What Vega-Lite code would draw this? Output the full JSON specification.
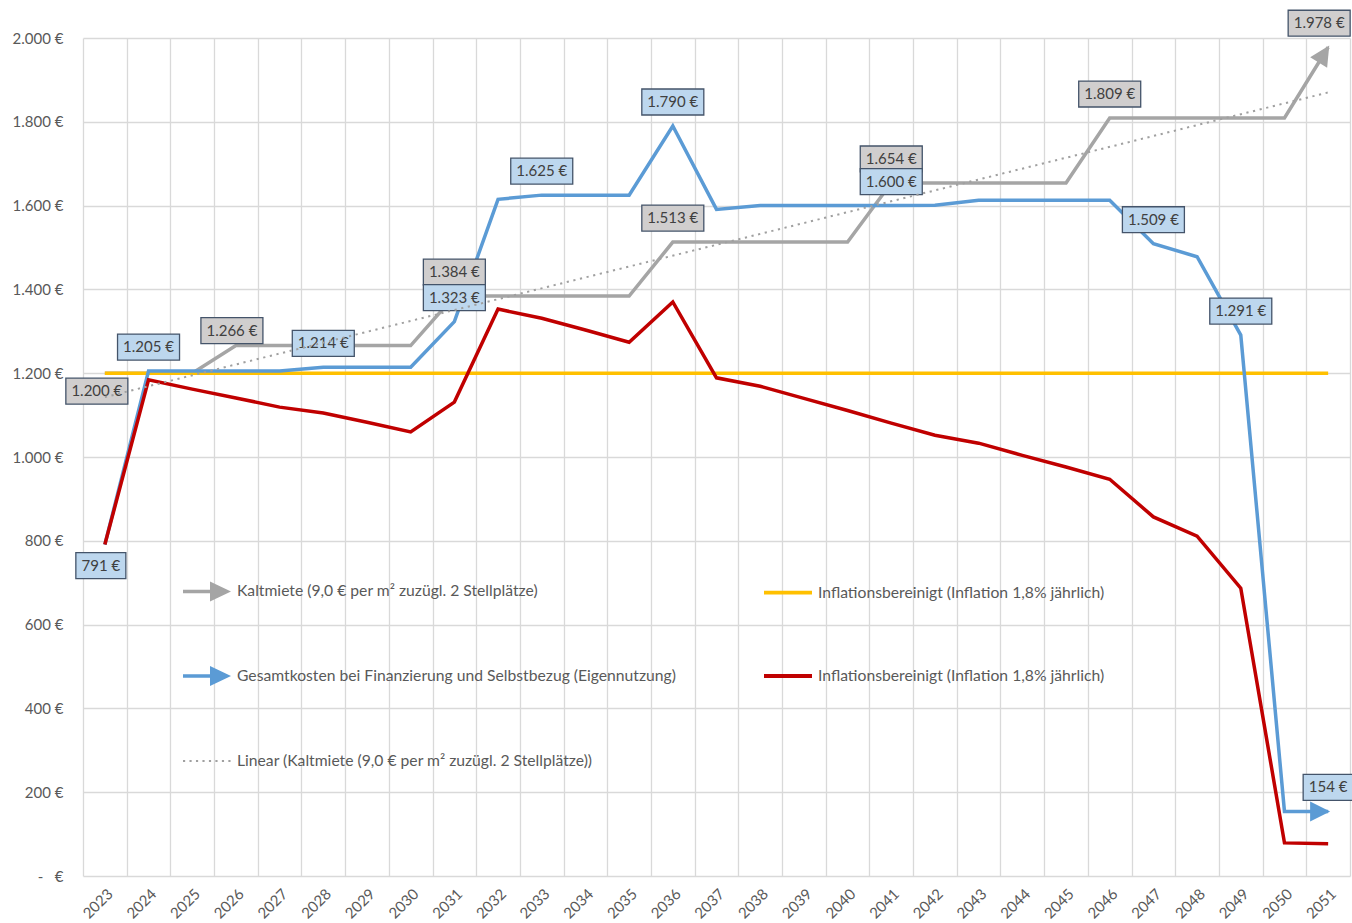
{
  "$schema": "https://vega.github.io/schema/vega-lite/v6.json",
  "width": 1267,
  "height": 838,
  "autosize": {"type": "none"},
  "padding": {"left": 83, "top": 38, "right": 2, "bottom": 47},
  "background": "white",
  "config": {"view": {"stroke": null}, "font": "Lato"},
  "datasets": {
    "main": [
      {"year": 2023, "s": "K", "v": 1200}, {"year": 2024, "s": "K", "v": 1200}, {"year": 2025, "s": "K", "v": 1200},
      {"year": 2026, "s": "K", "v": 1266}, {"year": 2027, "s": "K", "v": 1266}, {"year": 2028, "s": "K", "v": 1266},
      {"year": 2029, "s": "K", "v": 1266}, {"year": 2030, "s": "K", "v": 1266}, {"year": 2031, "s": "K", "v": 1384},
      {"year": 2032, "s": "K", "v": 1384}, {"year": 2033, "s": "K", "v": 1384}, {"year": 2034, "s": "K", "v": 1384},
      {"year": 2035, "s": "K", "v": 1384}, {"year": 2036, "s": "K", "v": 1513}, {"year": 2037, "s": "K", "v": 1513},
      {"year": 2038, "s": "K", "v": 1513}, {"year": 2039, "s": "K", "v": 1513}, {"year": 2040, "s": "K", "v": 1513},
      {"year": 2041, "s": "K", "v": 1654}, {"year": 2042, "s": "K", "v": 1654}, {"year": 2043, "s": "K", "v": 1654},
      {"year": 2044, "s": "K", "v": 1654}, {"year": 2045, "s": "K", "v": 1654}, {"year": 2046, "s": "K", "v": 1809},
      {"year": 2047, "s": "K", "v": 1809}, {"year": 2048, "s": "K", "v": 1809}, {"year": 2049, "s": "K", "v": 1809},
      {"year": 2050, "s": "K", "v": 1809}, {"year": 2051, "s": "K", "v": 1978},

      {"year": 2023, "s": "G", "v": 791}, {"year": 2024, "s": "G", "v": 1205}, {"year": 2025, "s": "G", "v": 1205},
      {"year": 2026, "s": "G", "v": 1205}, {"year": 2027, "s": "G", "v": 1205}, {"year": 2028, "s": "G", "v": 1214},
      {"year": 2029, "s": "G", "v": 1214}, {"year": 2030, "s": "G", "v": 1214}, {"year": 2031, "s": "G", "v": 1323},
      {"year": 2032, "s": "G", "v": 1615}, {"year": 2033, "s": "G", "v": 1625}, {"year": 2034, "s": "G", "v": 1625},
      {"year": 2035, "s": "G", "v": 1625}, {"year": 2036, "s": "G", "v": 1790}, {"year": 2037, "s": "G", "v": 1591},
      {"year": 2038, "s": "G", "v": 1600}, {"year": 2039, "s": "G", "v": 1600}, {"year": 2040, "s": "G", "v": 1600},
      {"year": 2041, "s": "G", "v": 1600}, {"year": 2042, "s": "G", "v": 1601}, {"year": 2043, "s": "G", "v": 1613},
      {"year": 2044, "s": "G", "v": 1613}, {"year": 2045, "s": "G", "v": 1613}, {"year": 2046, "s": "G", "v": 1613},
      {"year": 2047, "s": "G", "v": 1509}, {"year": 2048, "s": "G", "v": 1478}, {"year": 2049, "s": "G", "v": 1291},
      {"year": 2050, "s": "G", "v": 154}, {"year": 2051, "s": "G", "v": 154},

      {"year": 2023, "s": "I", "v": 1200}, {"year": 2024, "s": "I", "v": 1200}, {"year": 2025, "s": "I", "v": 1200},
      {"year": 2026, "s": "I", "v": 1200}, {"year": 2027, "s": "I", "v": 1200}, {"year": 2028, "s": "I", "v": 1200},
      {"year": 2029, "s": "I", "v": 1200}, {"year": 2030, "s": "I", "v": 1200}, {"year": 2031, "s": "I", "v": 1200},
      {"year": 2032, "s": "I", "v": 1200}, {"year": 2033, "s": "I", "v": 1200}, {"year": 2034, "s": "I", "v": 1200},
      {"year": 2035, "s": "I", "v": 1200}, {"year": 2036, "s": "I", "v": 1200}, {"year": 2037, "s": "I", "v": 1200},
      {"year": 2038, "s": "I", "v": 1200}, {"year": 2039, "s": "I", "v": 1200}, {"year": 2040, "s": "I", "v": 1200},
      {"year": 2041, "s": "I", "v": 1200}, {"year": 2042, "s": "I", "v": 1200}, {"year": 2043, "s": "I", "v": 1200},
      {"year": 2044, "s": "I", "v": 1200}, {"year": 2045, "s": "I", "v": 1200}, {"year": 2046, "s": "I", "v": 1200},
      {"year": 2047, "s": "I", "v": 1200}, {"year": 2048, "s": "I", "v": 1200}, {"year": 2049, "s": "I", "v": 1200},
      {"year": 2050, "s": "I", "v": 1200}, {"year": 2051, "s": "I", "v": 1200},

      {"year": 2023, "s": "R", "v": 791}, {"year": 2024, "s": "R", "v": 1184}, {"year": 2025, "s": "R", "v": 1162},
      {"year": 2026, "s": "R", "v": 1141}, {"year": 2027, "s": "R", "v": 1119}, {"year": 2028, "s": "R", "v": 1105},
      {"year": 2029, "s": "R", "v": 1083}, {"year": 2030, "s": "R", "v": 1060}, {"year": 2031, "s": "R", "v": 1131},
      {"year": 2032, "s": "R", "v": 1353}, {"year": 2033, "s": "R", "v": 1331}, {"year": 2034, "s": "R", "v": 1303},
      {"year": 2035, "s": "R", "v": 1274}, {"year": 2036, "s": "R", "v": 1370}, {"year": 2037, "s": "R", "v": 1189},
      {"year": 2038, "s": "R", "v": 1169}, {"year": 2039, "s": "R", "v": 1140}, {"year": 2040, "s": "R", "v": 1111},
      {"year": 2041, "s": "R", "v": 1081}, {"year": 2042, "s": "R", "v": 1052}, {"year": 2043, "s": "R", "v": 1033},
      {"year": 2044, "s": "R", "v": 1004}, {"year": 2045, "s": "R", "v": 976}, {"year": 2046, "s": "R", "v": 947},
      {"year": 2047, "s": "R", "v": 857}, {"year": 2048, "s": "R", "v": 811}, {"year": 2049, "s": "R", "v": 687},
      {"year": 2050, "s": "R", "v": 79}, {"year": 2051, "s": "R", "v": 77},

      {"year": 2023, "s": "T", "v": 1143}, {"year": 2051, "s": "T", "v": 1870}
    ],
    "labels": [
      {"year": 2023, "s": "K", "v": 1200, "text": "1.200 €"},
      {"year": 2026, "s": "K", "v": 1266, "text": "1.266 €"},
      {"year": 2031, "s": "K", "v": 1384, "text": "1.384 €"},
      {"year": 2036, "s": "K", "v": 1513, "text": "1.513 €"},
      {"year": 2041, "s": "K", "v": 1654, "text": "1.654 €"},
      {"year": 2046, "s": "K", "v": 1809, "text": "1.809 €"},
      {"year": 2051, "s": "K", "v": 1978, "text": "1.978 €"},
      {"year": 2023, "s": "G", "v": 791, "text": "791 €"},
      {"year": 2024, "s": "G", "v": 1205, "text": "1.205 €"},
      {"year": 2028, "s": "G", "v": 1214, "text": "1.214 €"},
      {"year": 2031, "s": "G", "v": 1323, "text": "1.323 €"},
      {"year": 2033, "s": "G", "v": 1625, "text": "1.625 €"},
      {"year": 2036, "s": "G", "v": 1790, "text": "1.790 €"},
      {"year": 2041, "s": "G", "v": 1600, "text": "1.600 €"},
      {"year": 2047, "s": "G", "v": 1509, "text": "1.509 €"},
      {"year": 2049, "s": "G", "v": 1291, "text": "1.291 €"},
      {"year": 2051, "s": "G", "v": 154, "text": "154 €"}
    ]
  },
  "data": {"name": "main"},
  "encoding": {
    "x": {
      "field": "year", "type": "ordinal", "bandPosition": 0.5,
      "scale": {"type": "band", "paddingInner": 0, "paddingOuter": 0, "domain": [2023, 2024, 2025, 2026, 2027, 2028, 2029, 2030, 2031, 2032, 2033, 2034, 2035, 2036, 2037, 2038, 2039, 2040, 2041, 2042, 2043, 2044, 2045, 2046, 2047, 2048, 2049, 2050, 2051]},
      "axis": {
        "title": null, "tickBand": "extent", "grid": true, "gridColor": "#D9D9D9", "gridWidth": 1.3,
        "ticks": false, "tickSize": 0, "domain": false, "labelAngle": -45, "labelPadding": 10,
        "labelFont": "Lato", "labelFontSize": 15, "labelColor": "#595959"
      }
    },
    "y": {
      "field": "v", "type": "quantitative",
      "scale": {"domain": [0, 2000], "nice": false},
      "axis": {
        "title": null, "values": [0, 200, 400, 600, 800, 1000, 1200, 1400, 1600, 1800, 2000],
        "grid": true, "gridColor": "#D9D9D9", "gridWidth": 1.3,
        "domain": false, "ticks": false, "tickSize": 0, "labelPadding": 20,
        "labelFont": "Lato", "labelFontSize": 15, "labelColor": "#595959",
        "labelExpr": "datum.value == 0 ? '-\u00a0\u00a0\u00a0€' : replace(format(datum.value, ',d'), ',', '.') + ' €'"
      }
    }
  },
  "layer": [
    {
      "transform": [{"filter": "datum.s == 'K'"}],
      "mark": {"type": "line", "color": "#A5A5A5", "strokeWidth": 3.5, "strokeJoin": "miter"}
    },
    {
      "transform": [{"filter": "datum.s == 'I'"}],
      "mark": {"type": "line", "color": "#FFC000", "strokeWidth": 3.5}
    },
    {
      "transform": [{"filter": "datum.s == 'G'"}],
      "mark": {"type": "line", "color": "#5B9BD5", "strokeWidth": 3.5, "strokeJoin": "miter"}
    },
    {
      "transform": [{"filter": "datum.s == 'R'"}],
      "mark": {"type": "line", "color": "#C00000", "strokeWidth": 3.5, "strokeJoin": "miter"}
    },
    {
      "transform": [{"filter": "datum.s == 'K' && datum.year == 2051"}],
      "mark": {"type": "point", "shape": "M-1,-1 L1,0 L-1,1 Z", "size": 400, "angle": -58, "xOffset": -4.2, "yOffset": 6.8, "filled": true, "fill": "#A5A5A5", "opacity": 1, "strokeWidth": 0}
    },
    {
      "transform": [{"filter": "datum.s == 'G' && datum.year == 2051"}],
      "mark": {"type": "point", "shape": "M-1,-1 L1,0 L-1,1 Z", "size": 400, "xOffset": -8, "filled": true, "fill": "#5B9BD5", "opacity": 1, "strokeWidth": 0}
    },
    {
      "data": {"name": "labels"},
      "transform": [{"filter": "datum.year != 2023 && datum.year != 2026 && !(datum.year == 2051 && datum.s == 'K')"}],
      "layer": [
        {
          "mark": {"type": "point", "yOffset": -24, "filled": true, "opacity": 1, "stroke": "#44546A", "strokeWidth": 1.3},
          "encoding": {
            "shape": {"condition": {"test": "length(datum.text) < 6", "value": "M-1,-0.52 L1,-0.52 L1,0.52 L-1,0.52 Z"}, "value": "M-1,-0.419 L1,-0.419 L1,0.419 L-1,0.419 Z"},
            "size": {"condition": {"test": "length(datum.text) < 6", "value": 2500}, "value": 3844},
            "fill": {"condition": {"test": "datum.s == 'K'", "value": "#D0CECE"}, "value": "#BDD7EE"}
          }
        },
        {
          "mark": {"type": "text", "yOffset": -24, "font": "Lato", "fontSize": 15, "color": "#404040", "align": "center", "baseline": "middle"},
          "encoding": {"text": {"field": "text"}}
        }
      ]
    },
    {
      "data": {"name": "labels"},
      "transform": [{"filter": "datum.year == 2051 && datum.s == 'K'"}],
      "layer": [
        {
          "mark": {"type": "point", "xOffset": -9, "yOffset": -24, "filled": true, "opacity": 1, "stroke": "#44546A", "strokeWidth": 1.3, "shape": "M-1,-0.419 L1,-0.419 L1,0.419 L-1,0.419 Z", "size": 3844, "fill": "#D0CECE"}
        },
        {
          "mark": {"type": "text", "xOffset": -9, "yOffset": -24, "font": "Lato", "fontSize": 15, "color": "#404040", "align": "center", "baseline": "middle"},
          "encoding": {"text": {"field": "text"}}
        }
      ]
    },
    {
      "data": {"name": "labels"},
      "transform": [{"filter": "datum.year == 2026"}],
      "layer": [
        {
          "mark": {"type": "point", "xOffset": -4, "yOffset": -15, "filled": true, "opacity": 1, "stroke": "#44546A", "strokeWidth": 1.3, "shape": "M-1,-0.419 L1,-0.419 L1,0.419 L-1,0.419 Z", "size": 3844, "fill": "#D0CECE"}
        },
        {
          "mark": {"type": "text", "xOffset": -4, "yOffset": -15, "font": "Lato", "fontSize": 15, "color": "#404040", "align": "center", "baseline": "middle"},
          "encoding": {"text": {"field": "text"}}
        }
      ]
    },
    {
      "data": {"name": "labels"},
      "transform": [{"filter": "datum.year == 2023 && datum.s == 'K'"}],
      "layer": [
        {
          "mark": {"type": "point", "xOffset": -8, "yOffset": 18, "filled": true, "opacity": 1, "stroke": "#44546A", "strokeWidth": 1.3, "shape": "M-1,-0.419 L1,-0.419 L1,0.419 L-1,0.419 Z", "size": 3844, "fill": "#D0CECE"}
        },
        {
          "mark": {"type": "text", "xOffset": -8, "yOffset": 18, "font": "Lato", "fontSize": 15, "color": "#404040", "align": "center", "baseline": "middle"},
          "encoding": {"text": {"field": "text"}}
        }
      ]
    },
    {
      "data": {"name": "labels"},
      "transform": [{"filter": "datum.year == 2023 && datum.s == 'G'"}],
      "layer": [
        {
          "mark": {"type": "point", "xOffset": -4, "yOffset": 21, "filled": true, "opacity": 1, "stroke": "#44546A", "strokeWidth": 1.3, "shape": "M-1,-0.52 L1,-0.52 L1,0.52 L-1,0.52 Z", "size": 2500, "fill": "#BDD7EE"}
        },
        {
          "mark": {"type": "text", "xOffset": -4, "yOffset": 21, "font": "Lato", "fontSize": 15, "color": "#404040", "align": "center", "baseline": "middle"},
          "encoding": {"text": {"field": "text"}}
        }
      ]
    },
    {
      "transform": [{"filter": "datum.s == 'T'"}],
      "mark": {"type": "line", "color": "#A0A0A0", "strokeWidth": 2, "strokeDash": [2.2, 4.6], "strokeCap": "butt"}
    },
    {
      "transform": [{"filter": "datum.year < 0"}],
      "mark": {"type": "point", "filled": true, "opacity": 1, "strokeWidth": 0},
      "encoding": {
        "color": {
          "field": "s", "type": "nominal",
          "scale": {"domain": ["K", "G", "T", "I", "R"], "range": ["#A5A5A5", "#5B9BD5", "#A0A0A0", "#FFC000", "#C00000"]},
          "legend": {
            "title": null, "orient": "none", "legendX": 100, "legendY": 529, "columns": 2,
            "symbolSize": 2304, "symbolStrokeWidth": 0, "labelOffset": 6, "labelLimit": 700,
            "labelFont": "Lato", "labelFontSize": 15.7, "labelColor": "#595959",
            "rowPadding": 50, "columnPadding": 88, "padding": 0,
            "labelExpr": "datum.value == 'K' ? 'Kaltmiete (9,0 € per m² zuzügl. 2 Stellplätze)' : datum.value == 'G' ? 'Gesamtkosten bei Finanzierung und Selbstbezug (Eigennutzung)' : datum.value == 'T' ? 'Linear (Kaltmiete (9,0 € per m² zuzügl. 2 Stellplätze))' : 'Inflationsbereinigt (Inflation 1,8% jährlich)'"
          }
        },
        "shape": {
          "field": "s", "type": "nominal",
          "scale": {"domain": ["K", "G", "T", "I", "R"], "range": [
            "M-1,-0.075 L0.125,-0.075 L0.125,-0.42 L1,0 L0.125,0.42 L0.125,0.075 L-1,0.075 Z",
            "M-1,-0.075 L0.125,-0.075 L0.125,-0.42 L1,0 L0.125,0.42 L0.125,0.075 L-1,0.075 Z",
            "M-1,-0.045 h0.09 v0.09 h-0.09 Z M-0.73,-0.045 h0.09 v0.09 h-0.09 Z M-0.46,-0.045 h0.09 v0.09 h-0.09 Z M-0.19,-0.045 h0.09 v0.09 h-0.09 Z M0.08,-0.045 h0.09 v0.09 h-0.09 Z M0.35,-0.045 h0.09 v0.09 h-0.09 Z M0.62,-0.045 h0.09 v0.09 h-0.09 Z M0.89,-0.045 h0.09 v0.09 h-0.09 Z",
            "M-1,-0.08 L1,-0.08 L1,0.08 L-1,0.08 Z",
            "M-1,-0.08 L1,-0.08 L1,0.08 L-1,0.08 Z"
          ]},
          "legend": {
            "title": null, "orient": "none", "legendX": 100, "legendY": 529, "columns": 2,
            "symbolSize": 2304, "symbolStrokeWidth": 0, "labelOffset": 6, "labelLimit": 700,
            "labelFont": "Lato", "labelFontSize": 15.7, "labelColor": "#595959",
            "rowPadding": 50, "columnPadding": 88, "padding": 0,
            "labelExpr": "datum.value == 'K' ? 'Kaltmiete (9,0 € per m² zuzügl. 2 Stellplätze)' : datum.value == 'G' ? 'Gesamtkosten bei Finanzierung und Selbstbezug (Eigennutzung)' : datum.value == 'T' ? 'Linear (Kaltmiete (9,0 € per m² zuzügl. 2 Stellplätze))' : 'Inflationsbereinigt (Inflation 1,8% jährlich)'"
          }
        }
      }
    }
  ]
}
